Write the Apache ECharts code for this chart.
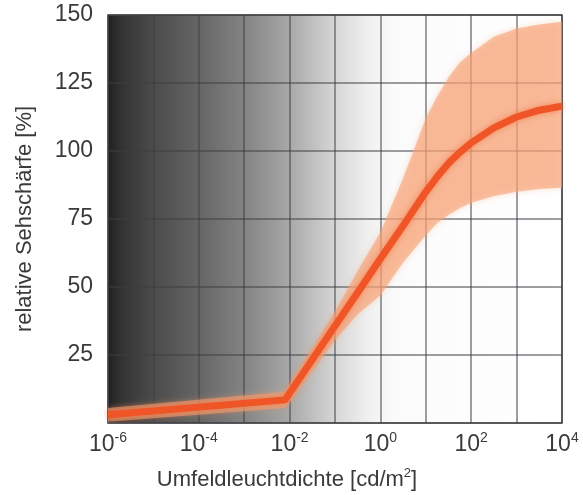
<!DOCTYPE html>
<html><head><meta charset="utf-8">
<script src="https://cdn.jsdelivr.net/npm/echarts@6/dist/echarts.min.js"></script>
<style>html,body{margin:0;padding:0;background:#fff}#c{width:583px;height:495px}</style>
</head><body><div id="c"></div>
<script>
// x values are log10 of the surround luminance (cd/m²)
const luminanceLog10 = [-6, -2.1, -1, -0.5, 0, 0.5, 1.0, 1.25, 1.5, 1.75, 2.0, 2.5, 3.0, 3.5, 4.0];
const acuityMean  = [3, 8.5, 35.7, 48, 60.4, 72.5, 85, 90.5, 95.5, 99.5, 103, 108.5, 112.5, 115, 116.5];
const acuityUpper = [5.5, 11.5, 41, 56, 70, 90, 112, 120, 127, 132.5, 136, 142, 145, 146.5, 147.5];
const acuityLower = [0.5, 5.5, 30.5, 40, 47, 59, 69, 73.5, 76.5, 79, 81, 83.5, 85, 86, 86.5];
const xTickLabels = [-6, -4, -2, 0, 2, 4];
const yTickLabels = [25, 50, 75, 100, 125, 150];

const chart = echarts.init(document.getElementById('c'), null, {renderer: 'canvas'});
const FONT = '"Liberation Sans", Arial, Helvetica, sans-serif';
const TXT = '#3a3a3a';

const bg = new echarts.graphic.LinearGradient(0, 0, 1, 0, [
  {offset: 0.00, color: '#1f1f1f'},
  {offset: 0.03, color: '#333333'},
  {offset: 0.10, color: '#4b4b4b'},
  {offset: 0.20, color: '#656565'},
  {offset: 0.30, color: '#838383'},
  {offset: 0.40, color: '#a8a8a8'},
  {offset: 0.50, color: '#d6d6d6'},
  {offset: 0.57, color: '#efefef'},
  {offset: 0.63, color: '#fbfbfb'},
  {offset: 1.00, color: '#ffffff'}
]);

const meanData = luminanceLog10.map((x, i) => [x, acuityMean[i]]);

chart.setOption({
  animation: false,
  grid: {
    left: 108, right: 21, top: 15, bottom: 72,
    outerBoundsMode: 'none', containLabel: false,
    show: true, backgroundColor: bg, borderColor: '#4a4a4a', borderWidth: 1.5
  },
  xAxis: {
    type: 'value', min: -6, max: 4, interval: 1,
    axisLine: {show: false}, axisTick: {show: false},
    splitLine: {show: true, lineStyle: {color: 'rgba(60,60,70,0.5)', width: 2}},
    axisLabel: {
      margin: 9,
      formatter: v => xTickLabels.includes(v) ? '{b|10}{s|' + v + '}' : '',
      rich: {
        b: {fontFamily: FONT, fontSize: 23, color: TXT, lineHeight: 26},
        s: {fontFamily: FONT, fontSize: 14, color: TXT, lineHeight: 26, padding: [0, 0, 14, 0]}
      }
    },
    name: '{a|Umfeldleuchtdichte [cd/m}{s|2}{a|]}',
    nameLocation: 'middle', nameGap: 44,
    nameTextStyle: {
      padding: [0, 96, 0, 0],
      rich: {
        a: {fontFamily: FONT, fontSize: 22, color: TXT, lineHeight: 26},
        s: {fontFamily: FONT, fontSize: 13, color: TXT, lineHeight: 26, padding: [0, 0, 14, 0]}
      }
    }
  },
  yAxis: {
    type: 'value', min: 0, max: 150, interval: 25,
    axisLine: {show: false}, axisTick: {show: false},
    splitLine: {show: true, lineStyle: {color: 'rgba(60,60,70,0.5)', width: 2}},
    axisLabel: {
      margin: 15, fontFamily: FONT, fontSize: 23, color: TXT,
      formatter: v => yTickLabels.includes(v) ? String(v) : ''
    },
    name: 'relative Sehschärfe [%]',
    nameLocation: 'middle', nameGap: 72,
    nameTextStyle: {fontFamily: FONT, fontSize: 22, color: TXT}
  },
  series: [
    {
      type: 'custom', clip: true, z: 2,
      data: [[luminanceLog10[0], acuityMean[0]]],
      renderItem: function (params, api) {
        if (params.dataIndex !== 0) return;
        const pts = [];
        for (let i = 0; i < luminanceLog10.length; i++) pts.push(api.coord([luminanceLog10[i], acuityUpper[i]]));
        for (let i = luminanceLog10.length - 1; i >= 0; i--) pts.push(api.coord([luminanceLog10[i], acuityLower[i]]));
        return {
          type: 'polygon', shape: {points: pts},
          style: {fill: 'rgba(246,160,115,0.6)', shadowBlur: 6, shadowColor: 'rgba(246,160,115,0.6)'}
        };
      }
    },
    {
      type: 'line', z: 3, data: meanData, showSymbol: false, symbol: 'none', clip: true,
      lineStyle: {color: '#ef5526', width: 7, shadowBlur: 6, shadowColor: 'rgba(245,120,70,0.8)', join: 'round'}
    }
  ]
});
</script>
</body></html>
